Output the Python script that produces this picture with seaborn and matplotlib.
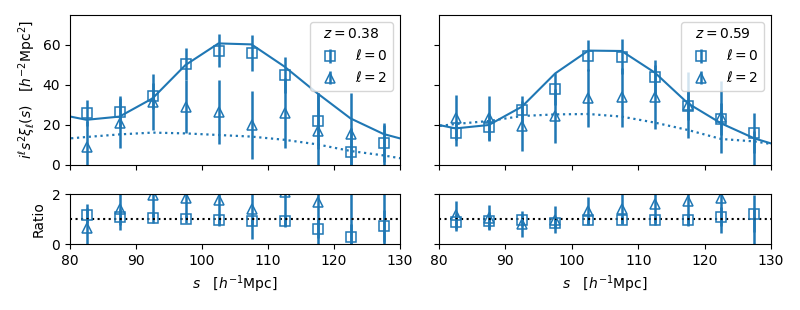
import numpy as np
import pandas as pd
import matplotlib
matplotlib.use("Agg")
import matplotlib.pyplot as plt
import seaborn as sns

# ---------------- data ----------------
s = [82.5, 87.5, 92.5, 97.5, 102.5, 107.5, 112.5, 117.5, 122.5, 127.5]
s_model = [77.5, 82.5, 87.5, 92.5, 97.5, 102.5, 107.5, 112.5, 117.5, 122.5, 127.5, 132.5]

# z = 0.38
xi0_038 = [25.8, 26.3, 34.7, 50.4, 57.2, 55.8, 45.0, 22.0, 6.7, 11.2]
err0_038 = [6.5, 8.0, 6.5, 8.0, 8.2, 9.0, 9.2, 13.8, 12.0, 9.7]
xi2_038 = [9.2, 21.2, 31.7, 29.2, 26.7, 20.0, 26.2, 17.2, 15.5, -4.0]
err2_038 = [13.0, 12.5, 14.0, 13.3, 16.0, 17.0, 17.5, 19.0, 20.3, 24.0]
model0_038 = [25.9, 22.6, 24.2, 33.3, 50.0, 60.8, 60.3, 49.2, 35.8, 23.3, 15.5, 11.1]
model2_038 = [12.6, 14.0, 15.3, 16.2, 15.8, 15.0, 14.2, 12.6, 10.3, 7.0, 4.8, 2.0]

# z = 0.59
xi0_059 = [15.8, 18.8, 27.5, 38.0, 54.7, 54.2, 43.8, 29.7, 22.8, 16.2]
err0_059 = [6.3, 6.6, 7.0, 7.8, 7.8, 8.7, 8.7, 7.4, 8.0, 10.0]
xi2_059 = [23.7, 23.3, 19.7, 24.5, 33.7, 33.8, 33.8, 30.0, 23.8, -3.0]
err2_059 = [11.3, 11.0, 12.5, 13.7, 14.5, 14.6, 16.0, 16.5, 18.0, 20.0]
model0_059 = [21.7, 18.3, 20.0, 29.2, 45.8, 57.2, 57.0, 46.2, 30.8, 20.8, 13.3, 8.3]
model2_059 = [18.5, 20.5, 22.0, 24.5, 25.3, 25.5, 24.2, 21.2, 17.5, 13.0, 11.8, 9.2]

redshifts = ["0.38", "0.59"]

panels = [
    dict(z=redshifts[0], xi0=xi0_038, e0=err0_038, xi2=xi2_038, e2=err2_038,
         m0=model0_038, m2=model2_038),
    dict(z=redshifts[1], xi0=xi0_059, e0=err0_059, xi2=xi2_059, e2=err2_059,
         m0=model0_059, m2=model2_059),
]

# ---------------- figure ----------------
plt.rcParams['font.family'] = ['DejaVu Sans']
plt.rcParams['font.size'] = 10
plt.rcParams['mathtext.fontset'] = 'dejavusans'

C = "#1f77b4"
fig = plt.figure(figsize=(8.0, 3.1), dpi=100)

lefts = [70 / 800, 439 / 800]
widths = [330 / 800, 332 / 800]
top_b, top_h = (310 - 165) / 310, 150 / 310
bot_b, bot_h = (310 - 244) / 310, 50 / 310

ekw = dict(mfc="none", mec=C, ecolor=C, color=C, ms=6.8, mew=1.1, elinewidth=1.8)

for i, p in enumerate(panels):
    ax = fig.add_axes([lefts[i], top_b, widths[i], top_h])
    axr = fig.add_axes([lefts[i], bot_b, widths[i], bot_h])

    dfm = pd.DataFrame({"s": s_model, "m0": p["m0"], "m2": p["m2"]})
    sns.lineplot(data=dfm, x="s", y="m0", ax=ax, color=C, lw=1.5)
    sns.lineplot(data=dfm, x="s", y="m2", ax=ax, color=C, lw=1.6, linestyle=":")

    h0 = ax.errorbar(s, p["xi0"], yerr=p["e0"], fmt="s", label=r"$\ell=0$", **ekw)
    h2 = ax.errorbar(s, p["xi2"], yerr=p["e2"], fmt="^", label=r"$\ell=2$", **ekw)
    ax.set_xlim(80, 130)
    ax.set_ylim(0, 75)
    ax.set_yticks([0, 20, 40, 60])
    ax.set_xticks([80, 90, 100, 110, 120, 130])
    ax.set_xticklabels([])
    ax.set_xlabel("")
    ax.set_ylabel("")
    ax.legend(handles=[h0, h2], title=r"$z=%s$" % p["z"], loc="upper right",
              fontsize=10, title_fontsize=10)

    m0 = np.array(p["m0"][1:-1])
    m2 = np.array(p["m2"][1:-1])
    r0 = np.array(p["xi0"]) / m0
    r2 = np.array(p["xi2"]) / m2
    re0 = np.array(p["e0"]) / m0
    re2 = np.array(p["e2"]) / m2
    axr.errorbar(s, r0, yerr=re0, fmt="s", **ekw)
    axr.errorbar(s, r2, yerr=re2, fmt="^", **ekw)
    axr.axhline(1.0, color="black", ls=":", lw=1.5)
    axr.set_xlim(80, 130)
    axr.set_ylim(0, 2)
    axr.set_yticks([0, 2])
    axr.set_xticks([80, 90, 100, 110, 120, 130])
    axr.set_xlabel(r"$s\quad[h^{-1}\mathrm{Mpc}]$")

    if i == 0:
        ax.set_ylabel(r"$i^\ell s^2\xi_\ell(s)\quad[h^{-2}\mathrm{Mpc}^2]$")
        axr.set_ylabel("Ratio")
    else:
        ax.set_yticklabels([])
        axr.set_yticklabels([])

fig.savefig("out.png", dpi=100)
